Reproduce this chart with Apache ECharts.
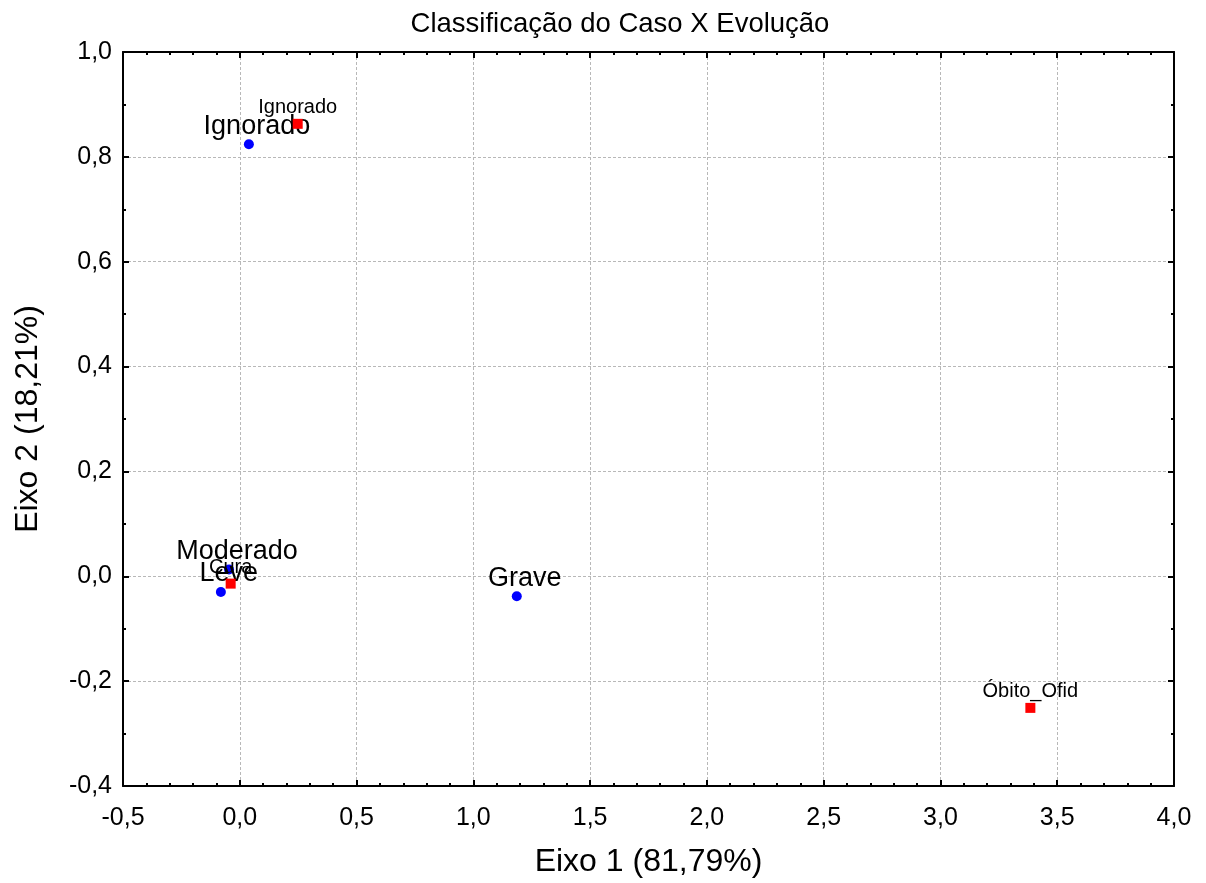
<!DOCTYPE html>
<html>
<head>
<meta charset="utf-8">
<script src="https://cdn.jsdelivr.net/npm/echarts@6/dist/echarts.min.js"></script>
<style>html,body{margin:0;padding:0;background:#fff}#c{width:1206px;height:883px}</style>
</head>
<body>
<div id="c"></div>
<script>
// Row profile points (Classificação do Caso) - blue circles
const rowNames = ['Ignorado', 'Moderado', 'Leve', 'Grave'];
const rowX = [0.039, -0.046, -0.081, 1.186];
const rowY = [0.824, 0.013, -0.030, -0.038];
// Column profile points (Evolução) - red squares
const colNames = ['Ignorado', 'Cura', 'Óbito_Ofid'];
const colX = [0.248, -0.039, 3.385];
const colY = [0.863, -0.014, -0.251];
// Axis settings
const xMin = -0.5, xMax = 4.0, xStep = 0.5;
const yMin = -0.4, yMax = 1.0, yStep = 0.2;

const FONT = 'Liberation Sans';
const fmt = v => v.toFixed(1).replace('.', ',');

const baseAxis = {
  axisLine: { show: true, onZero: false, lineStyle: { color: '#000', width: 2 } },
  axisTick: { show: true, inside: true, length: 6, lineStyle: { color: '#000', width: 2 } },
  minorTick: { show: true, length: 3, lineStyle: { color: '#000', width: 2 } },
};

const chart = echarts.init(document.getElementById('c'), null, { renderer: 'canvas' });
chart.setOption({
  animation: false,
  backgroundColor: '#fff',
  title: {
    text: 'Classificação do Caso X Evolução',
    left: 615, top: 5, textAlign: 'center',
    textStyle: { fontFamily: FONT, fontSize: 27.5, fontWeight: 'normal', color: '#000' }
  },
  grid: { left: 123, right: 32, top: 52, bottom: 96 },
  xAxis: [
    Object.assign({}, baseAxis, {
      type: 'value', position: 'bottom', min: xMin, max: xMax, interval: xStep,
      minorTick: Object.assign({}, baseAxis.minorTick, { splitNumber: 5 }),
      axisLabel: { formatter: fmt, fontFamily: FONT, fontSize: 25, color: '#000', margin: 20 },
      splitLine: { show: true, lineStyle: { color: '#b8b8b8', width: 1, type: [3, 2] } },
      name: 'Eixo 1 (81,79%)', nameLocation: 'middle', nameGap: 60,
      nameTextStyle: { fontFamily: FONT, fontSize: 32, color: '#000' }
    }),
    Object.assign({}, baseAxis, {
      type: 'value', position: 'top', min: xMin, max: xMax, interval: xStep,
      minorTick: Object.assign({}, baseAxis.minorTick, { splitNumber: 5 }),
      axisLabel: { show: false }, splitLine: { show: false }
    })
  ],
  yAxis: [
    Object.assign({}, baseAxis, {
      type: 'value', position: 'left', min: yMin, max: yMax, interval: yStep,
      minorTick: Object.assign({}, baseAxis.minorTick, { splitNumber: 2 }),
      axisLabel: { formatter: fmt, fontFamily: FONT, fontSize: 25, color: '#000', margin: 11 },
      splitLine: { show: true, lineStyle: { color: '#b8b8b8', width: 1, type: [3, 2] } },
      name: 'Eixo 2 (18,21%)', nameLocation: 'middle', nameGap: 79,
      nameTextStyle: { fontFamily: FONT, fontSize: 32, color: '#000' }
    }),
    Object.assign({}, baseAxis, {
      type: 'value', position: 'right', min: yMin, max: yMax, interval: yStep,
      minorTick: Object.assign({}, baseAxis.minorTick, { splitNumber: 2 }),
      axisLabel: { show: false }, splitLine: { show: false }
    })
  ],
  series: [
    {
      type: 'scatter', xAxisIndex: 0, yAxisIndex: 0,
      symbol: 'circle', symbolSize: 10,
      itemStyle: { color: '#0000ff', opacity: 1 },
      data: rowNames.map((n, i) => ({ name: n, value: [rowX[i], rowY[i]] })),
      label: {
        show: true, position: 'inside', offset: [8, -18],
        formatter: p => p.name,
        fontFamily: FONT, fontSize: 27, color: '#000', opacity: 1,
        textBorderWidth: 0
      },
      emphasis: { disabled: true },
      z: 3
    },
    {
      type: 'scatter', xAxisIndex: 0, yAxisIndex: 0,
      symbol: 'rect', symbolSize: 10,
      itemStyle: { color: '#ff0000', opacity: 1 },
      data: colNames.map((n, i) => ({ name: n, value: [colX[i], colY[i]] })),
      label: {
        show: true, position: 'inside', offset: [0, -16],
        formatter: p => p.name,
        fontFamily: FONT, fontSize: 20, color: '#000', opacity: 1,
        textBorderWidth: 0
      },
      emphasis: { disabled: true },
      z: 4
    }
  ]
});
</script>
</body>
</html>
